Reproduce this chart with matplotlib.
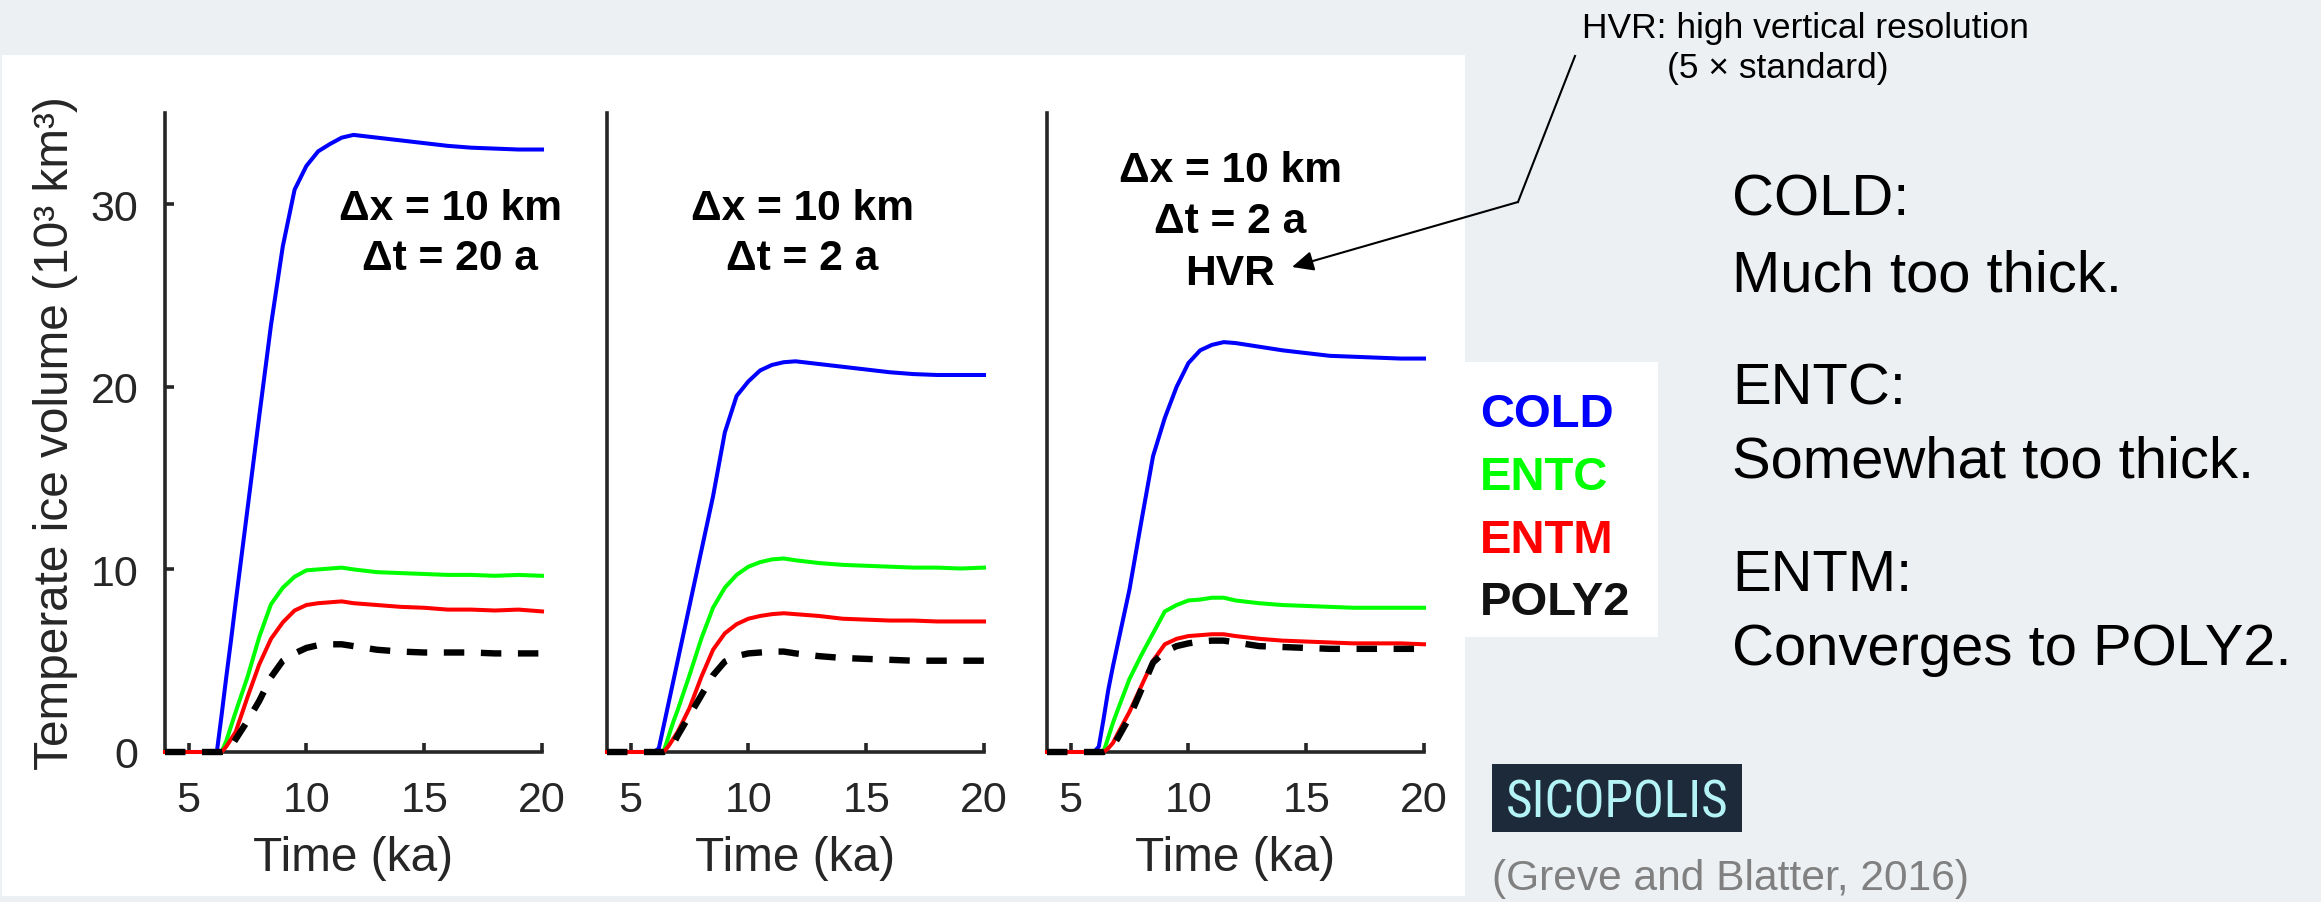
import matplotlib
matplotlib.use("Agg")
import matplotlib.pyplot as plt
from matplotlib.patches import Rectangle, FancyArrowPatch
from matplotlib.lines import Line2D
from matplotlib import font_manager

# ---------------- data ----------------
time_ka = [4.0, 6.0, 6.2, 6.4, 6.6, 6.8, 7.0, 7.5, 8.0, 8.5, 9.0, 9.5, 10.0,
           10.5, 11.0, 11.5, 12.0, 13.0, 14.0, 15.0, 16.0, 17.0, 18.0, 19.0, 20.0]

# panel 1: dx = 10 km, dt = 20 a
cold_dt20 = [0, 0, 0, 2.0, 4.1, 6.1, 8.2, 13.3, 18.4, 23.4, 27.7, 30.8, 32.1,
             32.9, 33.3, 33.65, 33.8, 33.65, 33.5, 33.35, 33.2, 33.1, 33.05, 33.0, 33.0]
entc_dt20 = [0, 0, 0, 0, 0.6, 1.4, 2.2, 4.1, 6.3, 8.1, 9.0, 9.6, 9.95,
             10.0, 10.05, 10.1, 10.0, 9.85, 9.8, 9.75, 9.7, 9.7, 9.65, 9.7, 9.65]
entm_dt20 = [0, 0, 0, 0, 0.3, 0.7, 1.1, 3.0, 4.8, 6.2, 7.1, 7.75, 8.05,
             8.15, 8.2, 8.25, 8.15, 8.05, 7.95, 7.9, 7.8, 7.8, 7.75, 7.8, 7.7]
poly2_dt20 = [0, 0, 0, 0, 0.05, 0.3, 0.7, 1.7, 2.8, 4.1, 5.0, 5.4, 5.7,
              5.85, 5.9, 5.9, 5.8, 5.6, 5.5, 5.45, 5.45, 5.45, 5.4, 5.4, 5.4]

# panel 2: dx = 10 km, dt = 2 a
cold_dt2 = [0, 0, 0.2, 1.4, 2.6, 3.8, 5.0, 8.0, 11.0, 14.0, 17.5, 19.5, 20.3,
            20.9, 21.2, 21.35, 21.4, 21.25, 21.1, 20.95, 20.8, 20.7, 20.65, 20.65, 20.65]
entc_dt2 = [0, 0, 0, 0, 0.8, 1.6, 2.3, 4.2, 6.2, 7.9, 9.0, 9.7, 10.15,
            10.4, 10.55, 10.6, 10.5, 10.35, 10.25, 10.2, 10.15, 10.1, 10.1, 10.05, 10.1]
entm_dt2 = [0, 0, 0, 0, 0.3, 0.7, 1.1, 2.4, 4.1, 5.6, 6.5, 7.0, 7.3,
            7.45, 7.55, 7.6, 7.55, 7.45, 7.3, 7.25, 7.2, 7.2, 7.15, 7.15, 7.15]
poly2_dt2 = [0, 0, 0, 0, 0.1, 0.4, 0.9, 2.0, 3.1, 4.2, 4.95, 5.25, 5.4,
             5.45, 5.5, 5.5, 5.4, 5.25, 5.15, 5.1, 5.05, 5.0, 5.0, 5.0, 5.0]

# panel 3: dx = 10 km, dt = 2 a, HVR
cold_hvr = [0, 0, 0.3, 1.8, 3.4, 4.7, 5.9, 8.9, 12.6, 16.2, 18.3, 20.0, 21.3,
            22.0, 22.3, 22.45, 22.4, 22.2, 22.0, 21.85, 21.7, 21.65, 21.6, 21.55, 21.55]
entc_hvr = [0, 0, 0, 0, 0.8, 1.6, 2.3, 4.0, 5.3, 6.5, 7.7, 8.05, 8.3,
            8.35, 8.45, 8.45, 8.3, 8.15, 8.05, 8.0, 7.95, 7.9, 7.9, 7.9, 7.9]
entm_hvr = [0, 0, 0, 0, 0.2, 0.5, 1.0, 2.2, 3.6, 5.0, 5.9, 6.2, 6.35,
            6.4, 6.45, 6.45, 6.35, 6.2, 6.1, 6.05, 6.0, 5.95, 5.95, 5.95, 5.9]
poly2_hvr = [0, 0, 0, 0, 0.1, 0.35, 0.75, 1.9, 3.4, 4.9, 5.5, 5.8, 5.95,
             6.05, 6.1, 6.1, 6.0, 5.8, 5.75, 5.7, 5.65, 5.65, 5.65, 5.65, 5.65]

series_names = ["COLD", "ENTC", "ENTM", "POLY2"]
x_ticks = [5, 10, 15, 20]
y_ticks = [0, 10, 20, 30]
panel_titles = [["Δx = 10 km", "Δt = 20 a"],
                ["Δx = 10 km", "Δt = 2 a"],
                ["Δx = 10 km", "Δt = 2 a", "HVR"]]
panel_data = [[cold_dt20, entc_dt20, entm_dt20, poly2_dt20],
              [cold_dt2, entc_dt2, entm_dt2, poly2_dt2],
              [cold_hvr, entc_hvr, entm_hvr, poly2_hvr]]
remarks = [("COLD:", "Much too thick."),
           ("ENTC:", "Somewhat too thick."),
           ("ENTM:", "Converges to POLY2.")]

# ---------------- styling / layout ----------------
W, H, DPI = 2321, 903, 100
plt.rcParams["font.family"] = ["Liberation Sans", "DejaVu Sans"]
BG = "#edf0f3"
AXC = "#262626"
colors = ["#0000ff", "#00ff00", "#ff0000", "#000000"]

# pick a condensed face for the logo, if one is installed
logo_kw = dict(family=["Liberation Sans"], fontsize=31)
fonts = font_manager.fontManager.ttflist
names = {f.name for f in fonts}
if "Liberation Sans Narrow" in names:
    logo_kw = dict(family=["Liberation Sans Narrow"], fontsize=36.5)
elif "Roboto Condensed" in names:
    logo_kw = dict(family=["Roboto Condensed"], fontsize=37)
elif any(f.name == "DejaVu Sans" and f.stretch == "condensed" and f.weight in (400, "normal")
         for f in fonts):
    logo_kw = dict(family=["DejaVu Sans"], stretch="condensed", fontsize=33)

fig = plt.figure(figsize=(W / DPI, H / DPI), dpi=DPI, facecolor=BG)


def fx(x):
    return x / W


def fy(y):
    return 1 - y / H


def box(x0, y0, x1, y1, color="white", z=-5):
    fig.add_artist(Rectangle((fx(x0), fy(y1)), fx(x1) - fx(x0), fy(y0) - fy(y1),
                             transform=fig.transFigure, facecolor=color,
                             edgecolor="none", zorder=z))


box(2, 56, 1465, 897)
box(1460, 363, 1658, 638)

ax_lefts = [165, 607, 1047]
ax_w, ax_top, ax_bot = 377, 114, 753
title_x = [450, 802, 1230]
title_baselines = [[220, 270], [220, 270], [182, 233, 285]]

for i, left in enumerate(ax_lefts):
    ax = fig.add_axes([fx(left), fy(ax_bot), ax_w / W, (ax_bot - ax_top) / H])
    ax.set_facecolor("none")
    ax.set_xlim(4, 20)
    ax.set_ylim(0, 35)
    for s in ["top", "right"]:
        ax.spines[s].set_visible(False)
    for s in ["left", "bottom"]:
        ax.spines[s].set_linewidth(2.6)
        ax.spines[s].set_color(AXC)
    ax.set_xticks(x_ticks)
    ax.tick_params(axis="x", direction="in", length=6.5, width=2.6, color=AXC,
                   labelsize=31, labelcolor=AXC, pad=20)
    if i == 0:
        ax.set_yticks(y_ticks)
        ax.tick_params(axis="y", direction="in", length=6.5, width=2.6, color=AXC,
                       labelsize=31, labelcolor=AXC, pad=19)
        ax.set_ylabel("Temperate ice volume (10³ km³)", fontsize=34.4, color=AXC)
        ax.yaxis.set_label_coords(-0.231, 0.5)
    else:
        ax.set_yticks([])
    ax.set_xlabel("Time (ka)", fontsize=34.4, color=AXC)
    ax.xaxis.set_label_coords(0.5, -0.13)

    for k, (vals, col) in enumerate(zip(panel_data[i], colors)):
        if series_names[k] == "POLY2":
            ax.plot(time_ka, vals, color=col, lw=4.6, dashes=(3.2, 2.6),
                    zorder=3 + k, clip_on=False)
        else:
            ax.plot(time_ka, vals, color=col, lw=2.9, zorder=3 + k,
                    clip_on=False)

    for line, yb in zip(panel_titles[i], title_baselines[i]):
        fig.text(fx(title_x[i]), fy(yb), line, ha="center", va="baseline",
                 fontsize=30.6, fontweight="bold", color="black")

# legend (coloured labels)
legend_baselines = [427, 490, 553, 615]
for name, col, yb in zip(series_names, colors, legend_baselines):
    fig.text(fx(1480), fy(yb), name, ha="left", va="baseline", fontsize=34,
             fontweight="bold", color=col if name != "POLY2" else "#111111")

# remarks on the right
remark_baselines = [(215, 292), (405, 478), (591, 665)]
for (head, body), (b1, b2) in zip(remarks, remark_baselines):
    fig.text(fx(1732), fy(b1), head, ha="left", va="baseline", fontsize=41.8, color="black")
    fig.text(fx(1732), fy(b2), body, ha="left", va="baseline", fontsize=41.8, color="black")

# HVR annotation
fig.text(fx(1805), fy(38), "HVR: high vertical resolution", ha="center",
         va="baseline", fontsize=25.5, color="black")
fig.text(fx(1778), fy(78), "(5 × standard)", ha="center", va="baseline",
         fontsize=25.5, color="black")
fig.add_artist(Line2D([fx(1575), fx(1518)], [fy(57), fy(203)],
                      transform=fig.transFigure, color="black", lw=1.5))
fig.add_artist(FancyArrowPatch((fx(1518), fy(203)), (fx(1292), fy(268)),
                               transform=fig.transFigure,
                               arrowstyle="-|>,head_length=0.65,head_width=0.3",
                               mutation_scale=20, color="black", lw=1.5,
                               shrinkA=0, shrinkB=0))

# SICOPOLIS logo + citation
box(1492, 765, 1742, 833, color="#1d2a39", z=1)
fig.text(fx(1617), fy(818), "SICOPOLIS", ha="center", va="baseline",
         color="#b4f4f6", zorder=2, **logo_kw)
fig.text(fx(1492), fy(890), "(Greve and Blatter, 2016)", ha="left",
         va="baseline", fontsize=30.6, color="#808080")

fig.savefig("out.png", dpi=DPI, facecolor=BG)
